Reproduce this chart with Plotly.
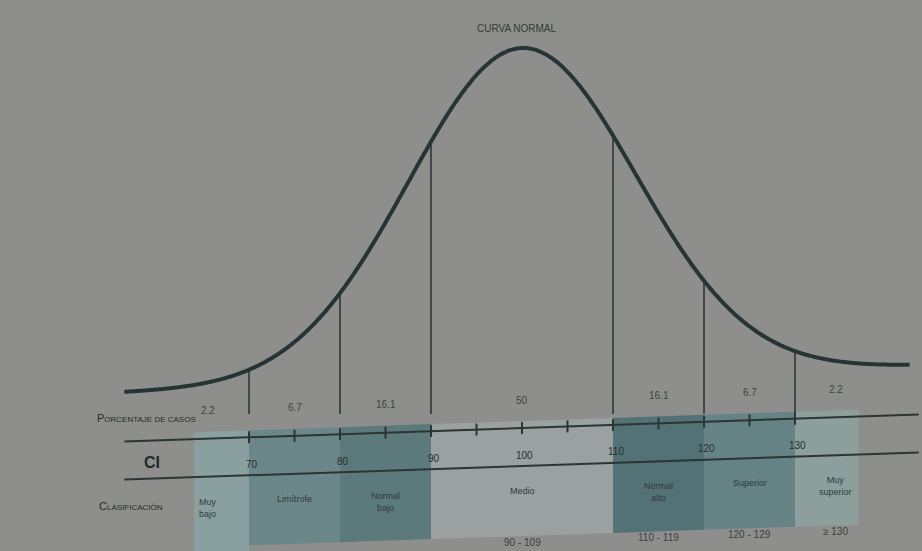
import numpy as np
import plotly.graph_objects as go

# ---------------- data ----------------
MEAN = 100
SD = 12.5
curve_iq_start, curve_iq_end = 56.3, 142.6
bounds = [70, 80, 90, 110, 120, 130]                 # class boundaries (CI)
box_edges = [64, 70, 80, 90, 110, 120, 130, 137]     # shaded classification cells
ci_ticks = [70, 80, 90, 100, 110, 120, 130]
minor_ticks = [70, 75, 80, 85, 90, 95, 100, 105, 110, 115, 120, 125, 130]
percentages = ["2.2", "6.7", "16.1", "50", "16.1", "6.7", "2.2"]
classes = ["Muy<br>bajo", "Limítrofe", "Normal<br>bajo", "Medio",
           "Normal<br>alto", "Superior", "Muy<br>superior"]
ranges = ["≤ 69", "70 - 79", "80 - 89", "90 - 109", "110 - 119", "120 - 129", "≥ 130"]
visible_ranges = [3, 4, 5, 6]  # the others are cut off at the bottom of the photo
box_colors = ["#8aa0a0", "#6c8789", "#5c797b", "#9aa1a0",
              "#537275", "#668386", "#8c9f9d"]

# ---------------- layout helpers ----------------
W, H = 922, 551
PX_PER_IQ = 9.1
IQ_AT_LEFT = 100 - 522 / PX_PER_IQ
IQ_AT_RIGHT = IQ_AT_LEFT + W / PX_PER_IQ
BG = "#8e8f8c"
DARK = "#263436"


def tilt(iq):
    # the photographed page is slightly rotated (right side higher)
    return -0.31 * (np.asarray(iq, dtype=float) - 100)


def curve_y(iq):
    z = (np.asarray(iq, dtype=float) - MEAN) / SD
    return 379 - 331 * np.exp(-z ** 2 / 2) + tilt(iq)


fig = go.Figure()

# shaded classification cells
for i, col in enumerate(box_colors):
    x0, x1 = box_edges[i], box_edges[i + 1]
    top0, top1 = 421 + tilt(x0), 421 + tilt(x1)
    if i == 0:
        b0 = b1 = 560
    else:
        b0, b1 = 536 + tilt(x0), 536 + tilt(x1)
    fig.add_trace(go.Scatter(x=[x0, x1, x1, x0, x0], y=[top0, top1, b1, b0, top0],
                             fill="toself", fillcolor=col, mode="lines",
                             line=dict(width=0), hoverinfo="skip", showlegend=False))

# axis rows (two long lines)
xs_line = np.array([curve_iq_start, curve_iq_end + 1])
for base in (428, 466):
    fig.add_trace(go.Scatter(x=xs_line, y=base + tilt(xs_line), mode="lines",
                             line=dict(color="#2c3434", width=2),
                             hoverinfo="skip", showlegend=False))

# tick marks
tx, ty = [], []
for t in minor_ticks:
    yc = 428 + float(tilt(t))
    tx += [t, t, None]
    ty += [yc - 6, yc + 6, None]
fig.add_trace(go.Scatter(x=tx, y=ty, mode="lines", line=dict(color="#2c3434", width=2),
                         hoverinfo="skip", showlegend=False))

# vertical boundary lines
vx, vy = [], []
for b in bounds:
    vx += [b, b, None]
    vy += [float(curve_y(b)), 414, None]
fig.add_trace(go.Scatter(x=vx, y=vy, mode="lines", line=dict(color="#2e3838", width=1.6),
                         hoverinfo="skip", showlegend=False))

# normal curve
cx = np.linspace(curve_iq_start, curve_iq_end, 400)
fig.add_trace(go.Scatter(x=cx, y=curve_y(cx), mode="lines",
                         line=dict(color=DARK, width=4, shape="spline"),
                         hoverinfo="skip", showlegend=False))

# ---------------- text ----------------
ann = []
centres = [bounds[0] - 4.5] + [(bounds[i] + bounds[i + 1]) / 2 for i in range(len(bounds) - 1)] + [bounds[-1] + 4.5]

for c, p in zip(centres, percentages):
    ann.append(dict(x=c, y=400 + float(tilt(c)), text=p, showarrow=False,
                    font=dict(size=10, color="#3b4242")))

for t in ci_ticks:
    ann.append(dict(x=t + 0.3, y=455 + float(tilt(t)), text=str(t), showarrow=False,
                    font=dict(size=10, color="#262d2e")))

for c, lab in zip(centres, classes):
    ann.append(dict(x=c, y=484 + float(tilt(c)), text=lab, showarrow=False, yanchor="top",
                    font=dict(size=9, color="#2e3a3b")))

for i in visible_ranges:
    c = centres[i]
    ann.append(dict(x=c, y=542 + float(tilt(c)), text=ranges[i], showarrow=False,
                    font=dict(size=10, color="#3a3f40")))

ann.append(dict(xref="paper", x=517 / W, y=28, text="CURVA NORMAL", showarrow=False,
                font=dict(size=10, color="#333838")))
ann.append(dict(xref="paper", x=95 / W, y=418, showarrow=False,
                text='<span style="font-size:11px">P</span><span style="font-size:8px">ORCENTAJE DE CASOS</span>',
                font=dict(size=8, color="#23292a")))
ann.append(dict(xref="paper", x=142 / W, y=462, showarrow=False, text="<b>CI</b>",
                font=dict(size=16, color="#22292a")))
ann.append(dict(xref="paper", x=97 / W, y=506, showarrow=False,
                text='<span style="font-size:11px">C</span><span style="font-size:8px">LASIFICACIÓN</span>',
                font=dict(size=8, color="#23292a")))

fig.update_layout(
    width=W, height=H,
    margin=dict(l=0, r=0, t=0, b=0),
    paper_bgcolor=BG, plot_bgcolor=BG,
    font=dict(family="Liberation Sans, Arial, sans-serif"),
    xaxis=dict(range=[IQ_AT_LEFT, IQ_AT_RIGHT], visible=False, fixedrange=True),
    yaxis=dict(range=[H, 0], visible=False, fixedrange=True),
    annotations=ann,
    showlegend=False,
)

fig.write_html(
    "out.html",
    config={"displayModeBar": False},
    post_script="document.body.style.margin='0';document.body.style.overflow='hidden';"
                "document.body.style.background='" + BG + "';",
)
